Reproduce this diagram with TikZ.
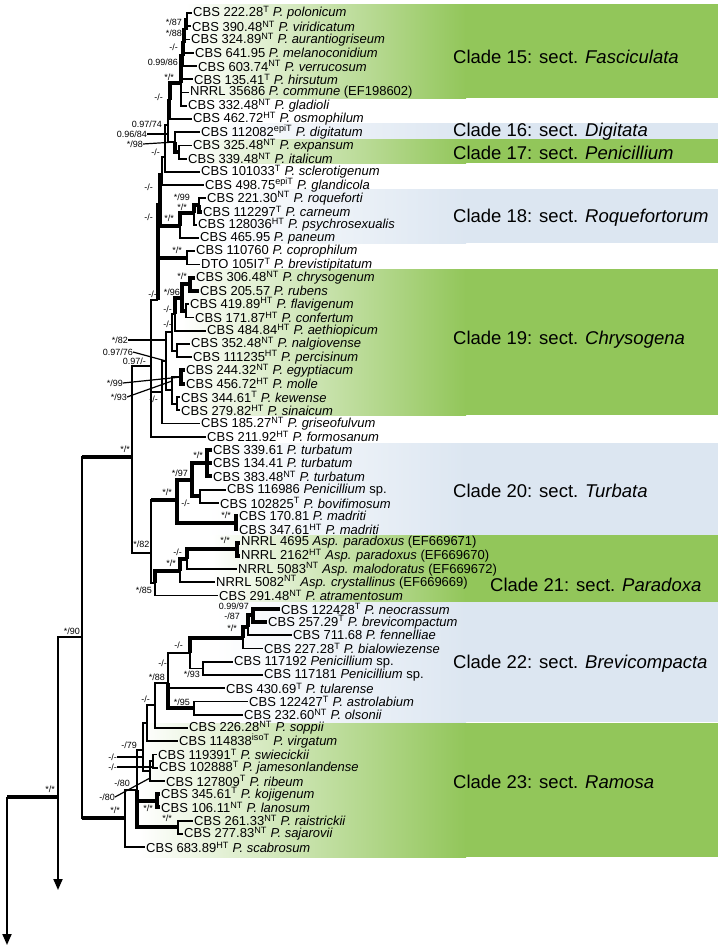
\documentclass[tikz,border=0pt]{standalone}
\usepackage{fontspec}
\setmainfont{Liberation Sans}
\usetikzlibrary{arrows.meta}

\definecolor{cladegreen}{RGB}{146,198,90}
\definecolor{cladeblue}{RGB}{220,230,241}
\newcommand{\tsup}[1]{\textsuperscript{#1}}
\newcommand{\spn}[1]{\textit{#1}}

\tikzset{
  br/.style={line width=1.8pt},
  sbr/.style={line width=4pt},
  lead/.style={line width=1.2pt},
  leaf/.style={anchor=west,inner xsep=1pt,inner ysep=0pt,font=\fontsize{13}{14}\selectfont},
  bs/.style={anchor=east,inner sep=0pt,font=\fontsize{9}{10}\selectfont},
  clade/.style={anchor=west,inner sep=0pt,font=\fontsize{18.5}{20}\selectfont},
}

\begin{document}
\begin{tikzpicture}[x=1pt,y=-1pt,declare function={ry(\r)=13+(\r-1)*13.24;}]
\useasboundingbox (0,0) rectangle (718,948);

\shade[left color=white,right color=cladegreen] (186,4) rectangle (466,98);
\fill[cladegreen] (465,4) rectangle (718,98);
\shade[left color=white,right color=cladeblue] (186,123) rectangle (466,139);
\fill[cladeblue] (465,123) rectangle (718,139);
\shade[left color=white,right color=cladegreen] (186,139) rectangle (466,163);
\fill[cladegreen] (465,139) rectangle (718,163);
\shade[left color=white,right color=cladeblue] (195,189) rectangle (466,243);
\fill[cladeblue] (465,189) rectangle (718,243);
\shade[left color=white,right color=cladegreen] (182,269) rectangle (466,415);
\fill[cladegreen] (465,269) rectangle (718,415);
\shade[left color=white,right color=cladeblue] (206,443) rectangle (466,535);
\fill[cladeblue] (465,443) rectangle (718,535);
\shade[left color=white,right color=cladegreen] (212,535) rectangle (466,602);
\fill[cladegreen] (465,535) rectangle (718,602);
\shade[left color=white,right color=cladeblue] (215,602) rectangle (466,722);
\fill[cladeblue] (465,602) rectangle (718,722);
\shade[left color=white,right color=cladegreen] (140,723) rectangle (466,857);
\fill[cladegreen] (465,723) rectangle (718,857);

\node[clade] (c15) at (453,57) {Clade 15: sect. \textit{Fasciculata}};
\node[clade] (c16) at (453,132) {Clade 16: sect. \textit{Digitata}};
\node[clade] (c17) at (453,153) {Clade 17: sect. \textit{Penicillium}};
\node[clade] (c18) at (453,218) {Clade 18: sect. \textit{Roquefortorum}};
\node[clade] (c19) at (453,340) {Clade 19: sect. \textit{Chrysogena}};
\node[clade] (c20) at (453,491) {Clade 20: sect. \textit{Turbata}};
\node[clade] (c21) at (490,585) {Clade 21: sect. \textit{Paradoxa}};
\node[clade] (c22) at (453,664) {Clade 22: sect. \textit{Brevicompacta}};
\node[clade] (c23) at (453,782) {Clade 23: sect. \textit{Ramosa}};

\node[leaf] (pol) at (192,{ry(1)}) {CBS 222.28\tsup{T} \spn{P. polonicum}};
\node[leaf] (vir) at (191,{ry(2)}) {CBS 390.48\tsup{NT} \spn{P. viridicatum}};
\node[leaf] (aur) at (190,{ry(3)}) {CBS 324.89\tsup{NT} \spn{P. aurantiogriseum}};
\node[leaf] (mel) at (194,{ry(4)}) {CBS 641.95 \spn{P. melanoconidium}};
\node[leaf] (ver) at (197,{ry(5)}) {CBS 603.74\tsup{NT} \spn{P. verrucosum}};
\node[leaf] (hir) at (193,{ry(6)}) {CBS 135.41\tsup{T} \spn{P. hirsutum}};
\node[leaf] (com) at (189,{ry(7)}) {NRRL 35686 \spn{P. commune} (EF198602)};
\node[leaf] (gla) at (187,{ry(8)}) {CBS 332.48\tsup{NT} \spn{P. gladioli}};
\node[leaf] (osm) at (192,{ry(9)}) {CBS 462.72\tsup{HT} \spn{P. osmophilum}};
\node[leaf] (dig) at (200,{ry(10)}) {CBS 112082\tsup{epiT} \spn{P. digitatum}};
\node[leaf] (exp) at (192,{ry(11)}) {CBS 325.48\tsup{NT} \spn{P. expansum}};
\node[leaf] (ita) at (187,{ry(12)}) {CBS 339.48\tsup{NT} \spn{P. italicum}};
\node[leaf] (scl) at (200,{ry(13)}) {CBS 101033\tsup{T} \spn{P. sclerotigenum}};
\node[leaf] (glc) at (204,{ry(14)}) {CBS 498.75\tsup{epiT} \spn{P. glandicola}};
\node[leaf] (roq) at (206,{ry(15)}) {CBS 221.30\tsup{NT} \spn{P. roqueforti}};
\node[leaf] (car) at (202,{ry(16)}) {CBS 112297\tsup{T} \spn{P. carneum}};
\node[leaf] (psy) at (197,{ry(17)}) {CBS 128036\tsup{HT} \spn{P. psychrosexualis}};
\node[leaf] (pan) at (199,{ry(18)}) {CBS 465.95 \spn{P. paneum}};
\node[leaf] (cop) at (195,{ry(19)}) {CBS 110760 \spn{P. coprophilum}};
\node[leaf] (brs) at (200,{ry(20)}) {DTO 105I7\tsup{T} \spn{P. brevistipitatum}};
\node[leaf] (chr) at (195,{ry(21)}) {CBS 306.48\tsup{NT} \spn{P. chrysogenum}};
\node[leaf] (rub) at (199,{ry(22)}) {CBS 205.57 \spn{P. rubens}};
\node[leaf] (fla) at (189,{ry(23)}) {CBS 419.89\tsup{HT} \spn{P. flavigenum}};
\node[leaf] (con) at (194,{ry(24)}) {CBS 171.87\tsup{HT} \spn{P. confertum}};
\node[leaf] (aet) at (206,{ry(25)}) {CBS 484.84\tsup{HT} \spn{P. aethiopicum}};
\node[leaf] (nal) at (190,{ry(26)}) {CBS 352.48\tsup{NT} \spn{P. nalgiovense}};
\node[leaf] (per) at (192,{ry(27)}) {CBS 111235\tsup{HT} \spn{P. percisinum}};
\node[leaf] (egy) at (185,{ry(28)}) {CBS 244.32\tsup{NT} \spn{P. egyptiacum}};
\node[leaf] (mol) at (185,{ry(29)}) {CBS 456.72\tsup{HT} \spn{P. molle}};
\node[leaf] (kew) at (180,{ry(30)}) {CBS 344.61\tsup{T} \spn{P. kewense}};
\node[leaf] (sin) at (180,{ry(31)}) {CBS 279.82\tsup{HT} \spn{P. sinaicum}};
\node[leaf] (gri) at (200,{ry(32)}) {CBS 185.27\tsup{NT} \spn{P. griseofulvum}};
\node[leaf] (frm) at (206,{ry(33)}) {CBS 211.92\tsup{HT} \spn{P. formosanum}};
\node[leaf] (tua) at (212,{ry(34)}) {CBS 339.61 \spn{P. turbatum}};
\node[leaf] (tub) at (212,{ry(35)}) {CBS 134.41 \spn{P. turbatum}};
\node[leaf] (tuc) at (212,{ry(36)}) {CBS 383.48\tsup{NT} \spn{P. turbatum}};
\node[leaf] (psa) at (226,{ry(37)}) {CBS 116986 \spn{Penicillium} sp.};
\node[leaf] (bov) at (219,{ry(38)}) {CBS 102825\tsup{T} \spn{P. bovifimosum}};
\node[leaf] (mda) at (238,{ry(39)}) {CBS 170.81 \spn{P. madriti}};
\node[leaf] (mdb) at (238,{ry(40)}) {CBS 347.61\tsup{HT} \spn{P. madriti}};
\node[leaf] (apa) at (240,{ry(41)}) {NRRL 4695 \spn{Asp. paradoxus} (EF669671)};
\node[leaf] (apb) at (240,{ry(42)}) {NRRL 2162\tsup{HT} \spn{Asp. paradoxus} (EF669670)};
\node[leaf] (aml) at (237,{ry(43)}) {NRRL 5083\tsup{NT} \spn{Asp. malodoratus} (EF669672)};
\node[leaf] (acr) at (215,{ry(44)}) {NRRL 5082\tsup{NT} \spn{Asp. crystallinus} (EF669669)};
\node[leaf] (atr) at (218,{ry(45)}) {CBS 291.48\tsup{NT} \spn{P. atramentosum}};
\node[leaf] (neo) at (280,{ry(46)}) {CBS 122428\tsup{T} \spn{P. neocrassum}};
\node[leaf] (bco) at (267,{ry(47)}) {CBS 257.29\tsup{T} \spn{P. brevicompactum}};
\node[leaf] (fen) at (292,{ry(48)}) {CBS 711.68 \spn{P. fennelliae}};
\node[leaf] (bia) at (263,{ry(49)}) {CBS 227.28\tsup{T} \spn{P. bialowiezense}};
\node[leaf] (psb) at (233,{ry(50)}) {CBS 117192 \spn{Penicillium} sp.};
\node[leaf] (psc) at (263,{ry(51)}) {CBS 117181 \spn{Penicillium} sp.};
\node[leaf] (tul) at (225,{ry(52)}) {CBS 430.69\tsup{T} \spn{P. tularense}};
\node[leaf] (ast) at (248,{ry(53)}) {CBS 122427\tsup{T} \spn{P. astrolabium}};
\node[leaf] (ols) at (243,{ry(54)}) {CBS 232.60\tsup{NT} \spn{P. olsonii}};
\node[leaf] (sop) at (188,{ry(55)}) {CBS 226.28\tsup{NT} \spn{P. soppii}};
\node[leaf] (vgt) at (178,{ry(56)}) {CBS 114838\tsup{isoT} \spn{P. virgatum}};
\node[leaf] (swi) at (157,{ry(57)}) {CBS 119391\tsup{T} \spn{P. swiecickii}};
\node[leaf] (jam) at (158,{ry(58)}) {CBS 102888\tsup{T} \spn{P. jamesonlandense}};
\node[leaf] (rib) at (165,{ry(59)}) {CBS 127809\tsup{T} \spn{P. ribeum}};
\node[leaf] (koj) at (160,{ry(60)}) {CBS 345.61\tsup{T} \spn{P. kojigenum}};
\node[leaf] (lan) at (160,{ry(61)}) {CBS 106.11\tsup{NT} \spn{P. lanosum}};
\node[leaf] (rai) at (193,{ry(62)}) {CBS 261.33\tsup{NT} \spn{P. raistrickii}};
\node[leaf] (saj) at (183,{ry(63)}) {CBS 277.83\tsup{NT} \spn{P. sajarovii}};
\node[leaf] (sca) at (145,{ry(64)}) {CBS 683.89\tsup{HT} \spn{P. scabrosum}};

\coordinate (f1) at (187,19.6);
\coordinate (f2) at (185.5,30);
\coordinate (f3) at (184,43);
\coordinate (f4) at (183,56);
\coordinate (g15) at (181,83);
\coordinate (h15) at (170,100);
\coordinate (p1) at (179,152);
\coordinate (p2) at (175,142);
\coordinate (p3) at (168,125);
\coordinate (p4) at (165,157);
\coordinate (p5) at (162,175);
\coordinate (p6) at (160,205);
\coordinate (r1) at (199,205);
\coordinate (r2) at (194,213);
\coordinate (r3) at (180,226);
\coordinate (c1) at (187,258);
\coordinate (p7) at (158,300);
\coordinate (ch1) at (190,284.4);
\coordinate (ch2) at (186,311);
\coordinate (ch3) at (182,298);
\coordinate (ch4) at (175,314);
\coordinate (ch5) at (177,350.6);
\coordinate (ch6) at (172,332);
\coordinate (e1) at (181,377);
\coordinate (e2) at (177,403.6);
\coordinate (e3) at (172,390);
\coordinate (e4) at (166,361);
\coordinate (e5) at (162,392);
\coordinate (u1) at (151,366);
\coordinate (n1) at (132,457);
\coordinate (t1) at (207,463);
\coordinate (t2) at (200,496);
\coordinate (t3) at (192,480);
\coordinate (m1) at (236,523);
\coordinate (t4) at (177,500);
\coordinate (q1) at (237,549);
\coordinate (q2) at (187,559);
\coordinate (q3) at (180,571);
\coordinate (q4) at (155,583);
\coordinate (l1) at (151,553);
\coordinate (b1) at (253,615.4);
\coordinate (b2) at (248,627);
\coordinate (b3) at (243,638);
\coordinate (b4) at (190,653);
\coordinate (b5) at (203,668.4);
\coordinate (b6) at (168,683);
\coordinate (b7) at (194,708);
\coordinate (b8) at (155,705);
\coordinate (b9) at (147,723);
\coordinate (b10) at (143,750);
\coordinate (s1) at (153,761);
\coordinate (s2) at (157,801);
\coordinate (s3) at (150,771);
\coordinate (ra1) at (178,827);
\coordinate (s4) at (137,790);
\coordinate (s5) at (125,818);
\coordinate (x82) at (82,637);
\coordinate (x58) at (58,797);
\coordinate (x7) at (7,797);
\coordinate (og1) at (58,890);
\coordinate (og2) at (7,945);
\coordinate (t93) at (172,381);
\coordinate (t80) at (150,778);

\draw[br] (f1) |- (pol.west);
\draw[br] (f1) |- (vir.west);
\draw[sbr] (f2) |- (f1);
\draw[br] (f2) |- (aur.west);
\draw[sbr] (f3) |- (f2);
\draw[br] (f3) |- (mel.west);
\draw[sbr] (f4) |- (f3);
\draw[br] (f4) |- (ver.west);
\draw[sbr] (g15) |- (f4);
\draw[br] (g15) |- (hir.west);
\draw[br] (g15) |- (com.west);
\draw[br] (g15) |- (gla.west);
\draw[sbr] (h15) |- (g15);
\draw[br] (h15) |- (osm.west);
\draw[br] (p1) |- (exp.west);
\draw[br] (p1) |- (ita.west);
\draw[br] (p2) |- (dig.west);
\draw[sbr] (p2) |- (p1);
\draw[br] (p3) |- (h15);
\draw[br] (p3) |- (p2);
\draw[br] (p4) |- (p3);
\draw[br] (p4) |- (scl.west);
\draw[br] (p5) |- (p4);
\draw[br] (p5) |- (glc.west);
\draw[br] (r1) |- (roq.west);
\draw[sbr] (r1) |- (car.west);
\draw[sbr] (r2) |- (r1);
\draw[br] (r2) |- (psy.west);
\draw[sbr] (r3) |- (r2);
\draw[br] (r3) |- (pan.west);
\draw[sbr] (p6) |- (p5);
\draw[sbr] (p6) |- (r3);
\draw[br] (c1) |- (cop.west);
\draw[br] (c1) |- (brs.west);
\draw[sbr] (p7) |- (p6);
\draw[sbr] (p7) |- (c1);
\draw[sbr] (ch1) |- (chr.west);
\draw[sbr] (ch1) |- (rub.west);
\draw[br] (ch2) |- (fla.west);
\draw[br] (ch2) |- (con.west);
\draw[sbr] (ch3) |- (ch1);
\draw[sbr] (ch3) |- (ch2);
\draw[sbr] (ch4) |- (ch3);
\draw[br] (ch4) |- (aet.west);
\draw[br] (ch5) |- (nal.west);
\draw[br] (ch5) |- (per.west);
\draw[br] (ch6) |- (ch4);
\draw[br] (ch6) |- (ch5);
\draw[sbr] (e1) |- (egy.west);
\draw[sbr] (e1) |- (mol.west);
\draw[br] (e2) |- (kew.west);
\draw[br] (e2) |- (sin.west);
\draw[br] (e3) |- (e1);
\draw[br] (e3) |- (e2);
\draw[br] (e4) |- (ch6);
\draw[br] (e4) |- (e3);
\draw[br] (e5) |- (e4);
\draw[br] (e5) |- (gri.west);
\draw[br] (u1) |- (p7);
\draw[br] (u1) |- (e5);
\draw[br] (u1) |- (frm.west);
\draw[br] (n1) |- (u1);
\draw[br] (n1) |- (l1);
\draw[sbr] (t1) |- (tua.west);
\draw[sbr] (t1) |- (tub.west);
\draw[sbr] (t1) |- (tuc.west);
\draw[br] (t2) |- (psa.west);
\draw[br] (t2) |- (bov.west);
\draw[sbr] (t3) |- (t1);
\draw[sbr] (t3) |- (t2);
\draw[sbr] (m1) |- (mda.west);
\draw[sbr] (m1) |- (mdb.west);
\draw[sbr] (t4) |- (t3);
\draw[sbr] (t4) |- (m1);
\draw[sbr] (q1) |- (apa.west);
\draw[sbr] (q1) |- (apb.west);
\draw[sbr] (q2) |- (q1);
\draw[br] (q2) |- (aml.west);
\draw[sbr] (q3) |- (q2);
\draw[br] (q3) |- (acr.west);
\draw[sbr] (q4) |- (q3);
\draw[br] (q4) |- (atr.west);
\draw[br] (l1) |- (t4);
\draw[sbr] (l1 |- t4) -- (t4);
\draw[br] (l1) |- (q4);
\draw[sbr] (b1) |- (neo.west);
\draw[sbr] (b1) |- (bco.west);
\draw[sbr] (b2) |- (b1);
\draw[br] (b2) |- (fen.west);
\draw[sbr] (b3) |- (b2);
\draw[br] (b3) |- (bia.west);
\draw[br] (b5) |- (psb.west);
\draw[br] (b5) |- (psc.west);
\draw[sbr] (b4) |- (b3);
\draw[br] (b4) |- (b5);
\draw[br] (b7) |- (ast.west);
\draw[br] (b7) |- (ols.west);
\draw[br] (b6) |- (b4);
\draw[br] (b6) |- (tul.west);
\draw[sbr] (b6) |- (b7);
\draw[br] (b8) |- (b6);
\draw[br] (b8) |- (sop.west);
\draw[br] (b9) |- (b8);
\draw[br] (b9) |- (vgt.west);
\draw[br] (s1) |- (swi.west);
\draw[br] (s1) |- (jam.west);
\draw[br] (s3) |- (s1);
\draw[br] (s3) |- (rib.west);
\draw[br] (b10) |- (b9);
\draw[br] (b10) |- (s3);
\draw[sbr] (s2) |- (koj.west);
\draw[sbr] (s2) |- (lan.west);
\draw[br] (ra1) |- (rai.west);
\draw[br] (ra1) |- (saj.west);
\draw[br] (s4) |- (b10);
\draw[sbr] (s4) |- (s2);
\draw[sbr] (s4) |- (ra1);
\draw[br] (s5) |- (s4);
\draw[br] (s5) |- (sca.west);
\draw[br] (x82) |- (n1);
\draw[sbr] (x82 |- n1) -- (n1);
\draw[br] (x82) |- (s5);
\draw[sbr] (x82 |- s5) -- (s5);
\draw[br] (x58) |- (x82);
\draw[sbr] (x7) -- (x58);
\draw[br,-{Triangle[width=9pt,length=11pt]}] (x58) -- (og1);
\draw[br,-{Triangle[width=9pt,length=11pt]}] (x7) -- (og2);

\node[bs] (l87) at (182,22) {*/87};
\node[bs] (l88) at (182,33) {*/88};
\node[bs] (lf3) at (178,47) {-/-};
\node[bs] (l9986) at (178,62) {0.99/86};
\node[bs] (lg15) at (174,77) {*/*};
\node[bs] (lh15) at (163,97) {-/-};
\node[bs] (l9774) at (162,124) {0.97/74};
\node[bs] (l9684) at (147,134) {0.96/84};
\node[bs] (l98) at (143,144) {*/98};
\node[bs] (lp4) at (160,152) {-/-};
\node[bs] (lp5) at (153,187) {-/-};
\node[bs] (lp6) at (153,217) {-/-};
\node[bs] (l99a) at (190,197) {*/99};
\node[bs] (lr2) at (187,207) {*/*};
\node[bs] (lr3) at (174,218) {*/*};
\node[bs] (lc1) at (182,250) {*/*};
\node[bs] (lch1) at (187,276) {*/*};
\node[bs] (lp7) at (157,294) {-/-};
\node[bs] (l96) at (180,292) {*/96};
\node[bs] (lch2) at (172,309) {-/-};
\node[bs] (lch4) at (172,324) {-/-};
\node[bs] (l82a) at (128,340) {*/82};
\node[bs] (l9776) at (133,352) {0.97/76};
\node[bs] (l97) at (146,361) {0.97/-};
\node[bs] (l99b) at (123,383) {*/99};
\node[bs] (l93a) at (127,397) {*/93};
\node[bs] (le5) at (158,399) {-/-};
\node[bs] (ln1) at (130,449) {*/*};
\node[bs] (lt1) at (203,455) {*/*};
\node[bs] (l97b) at (188,473) {*/97};
\node[bs] (lt4) at (172,492) {*/*};
\node[bs] (lt2) at (190,503) {-/-};
\node[bs] (lm1) at (231,515) {*/*};
\node[bs] (lq1) at (230,540) {*/*};
\node[bs] (l82b) at (149.5,544) {*/82};
\node[bs] (lq2) at (182,552) {-/-};
\node[bs] (lq3) at (176,563) {*/*};
\node[bs] (l85) at (152,590) {*/85};
\node[bs] (l9997) at (249,606) {0.99/97};
\node[bs] (l87b) at (240,616) {-/87};
\node[bs] (lb3) at (237,628) {*/*};
\node[bs] (lb4) at (183,645) {-/-};
\node[bs] (lb6) at (167,663) {-/-};
\node[bs] (l93b) at (200,674) {*/93};
\node[bs] (l88b) at (165,677) {*/88};
\node[bs] (lb8) at (150,699) {-/-};
\node[bs] (l95) at (190,702) {*/95};
\node[bs] (l79) at (137,745) {-/79};
\node[bs] (ls1a) at (117,757) {-/-};
\node[bs] (ls1b) at (117,767) {-/-};
\node[bs] (l80a) at (130,783) {-/80};
\node[bs] (l80b) at (115,797) {-/80};
\node[bs] (ls2) at (153,808) {*/*};
\node[bs] (lra1) at (172,818) {*/*};
\node[bs] (ls5) at (120,810) {*/*};
\node[bs] (lx82) at (80,631) {*/90};
\node[bs] (lx58) at (55,789) {*/*};

\draw[lead] (l9684.east) -- (p3 |- l9684.east);
\draw[lead] (l98.east) -- (p2);
\draw[lead] (l82a.east) -- (e4 |- l82a.east);
\draw[lead] (l9776.east) -- (e4);
\draw[lead] (l99b.east) -- (e1);
\draw[lead] (l93a.east) -- (t93);
\draw[lead] (ls1a.east) -- (b10 |- ls1a.east);
\draw[lead] (ls1b.east) -- (s1 |- ls1b.east);
\draw[lead] (l80b.east) -- (t80);
\end{tikzpicture}
\end{document}
